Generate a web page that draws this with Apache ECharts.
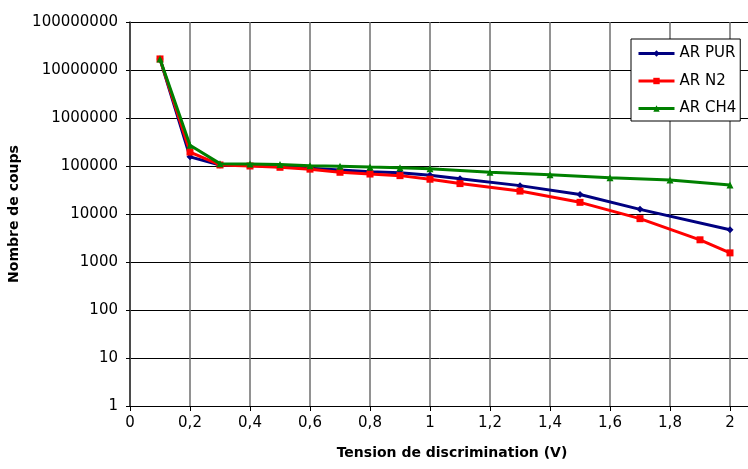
<!DOCTYPE html>
<html>
<head>
<meta charset="utf-8">
<script src="https://cdn.jsdelivr.net/npm/echarts@6/dist/echarts.min.js"></script>
<style>
  html, body { margin: 0; padding: 0; background: #fff; }
  #chart { width: 748px; height: 469px; }
</style>
</head>
<body>
<div id="chart"></div>
<script>
// ---- data ----
const seriesNames = ['AR PUR', 'AR N2', 'AR CH4'];
const xPur = [0.1, 0.2, 0.3, 0.4, 0.5, 0.6, 0.7, 0.8, 0.9, 1.0, 1.1, 1.3, 1.5, 1.7, 2.0];
const yPur = [17000000, 155000, 105000, 102000, 96000, 90000, 83000, 76000, 72000, 64000, 54000, 39000, 25500, 12500, 4700];
const xN2 = [0.1, 0.2, 0.3, 0.4, 0.5, 0.6, 0.7, 0.8, 0.9, 1.0, 1.1, 1.3, 1.5, 1.7, 1.9, 2.0];
const yN2 = [17000000, 195000, 105000, 100000, 94000, 86000, 74000, 68000, 63000, 53000, 43000, 30000, 17500, 8000, 2900, 1550];
const xCh4 = [0.1, 0.2, 0.3, 0.4, 0.5, 0.6, 0.7, 0.8, 0.9, 1.0, 1.2, 1.4, 1.6, 1.8, 2.0];
const yCh4 = [17000000, 270000, 112000, 110000, 107000, 101000, 99000, 95000, 92000, 88000, 74000, 66000, 57000, 51000, 40000];
const xTicks = [0, 0.2, 0.4, 0.6, 0.8, 1, 1.2, 1.4, 1.6, 1.8, 2, 2.2];
const yTickLabels = ['1', '10', '100', '1000', '10000', '100000', '1000000', '10000000', '100000000'];
const xTitle = 'Tension de discrimination (V)';
const yTitle = 'Nombre de coups';

const zip = (xs, ys) => xs.map((x, i) => [x, ys[i]]);
const FONT = 'DejaVu Sans';

const chart = echarts.init(document.getElementById('chart'), null, { renderer: 'canvas' });
chart.setOption({
  animation: false,
  backgroundColor: '#fff',
  grid: { left: 130, top: 22, width: 660, height: 384, outerBoundsMode: 'none', containLabel: false },
  legend: {
    orient: 'vertical', left: 631, top: 39,
    itemWidth: 36, itemHeight: 8, itemGap: 12.5,
    padding: [7, 4, 5, 6],
    borderColor: '#000', borderWidth: 1, backgroundColor: '#fff',
    lineStyle: { width: 3 },
    textStyle: { fontFamily: FONT, fontSize: 15, color: '#000' },
    data: seriesNames
  },
  xAxis: {
    type: 'value', min: xTicks[0], max: xTicks[xTicks.length - 1], interval: 0.2,
    name: xTitle, nameLocation: 'middle', nameGap: 40,
    nameTextStyle: { fontFamily: FONT, fontSize: 14, fontWeight: 'bold', color: '#000', padding: [0, 16, 0, 0] },
    axisLine: { show: true, lineStyle: { color: '#000', width: 1 } },
    axisTick: { show: true, length: 5, lineStyle: { color: '#000' } },
    axisLabel: {
      margin: 10, fontFamily: FONT, fontSize: 15, color: '#000',
      formatter: v => String(Number(v.toFixed(1))).replace('.', ',')
    },
    splitLine: { show: true, lineStyle: { color: '#6e6e6e', width: 1.5 } }
  },
  yAxis: {
    type: 'log', logBase: 10, min: 1, max: 100000000,
    name: yTitle, nameLocation: 'middle', nameGap: 106, nameRotate: 90,
    nameTextStyle: { fontFamily: FONT, fontSize: 14, fontWeight: 'bold', color: '#000' },
    axisLine: { show: true, lineStyle: { color: '#333', width: 1.5 } },
    axisTick: { show: true, length: 4, lineStyle: { color: '#000' } },
    axisLabel: {
      margin: 12, fontFamily: FONT, fontSize: 15, color: '#000',
      formatter: v => yTickLabels[Math.round(Math.log10(v))] ?? String(Math.round(v))
    },
    splitLine: { show: true, lineStyle: { color: '#000', width: 1 } }
  },
  series: [
    { name: seriesNames[0], type: 'line', data: zip(xPur, yPur), color: '#000080',
      symbol: 'diamond', symbolSize: 7, lineStyle: { width: 3 }, z: 2 },
    { name: seriesNames[1], type: 'line', data: zip(xN2, yN2), color: '#ff0000',
      symbol: 'rect', symbolSize: 7, lineStyle: { width: 3 }, z: 3 },
    { name: seriesNames[2], type: 'line', data: zip(xCh4, yCh4), color: '#008000',
      symbol: 'triangle', symbolSize: 7, lineStyle: { width: 3 }, z: 4 }
  ]
});
</script>
</body>
</html>
